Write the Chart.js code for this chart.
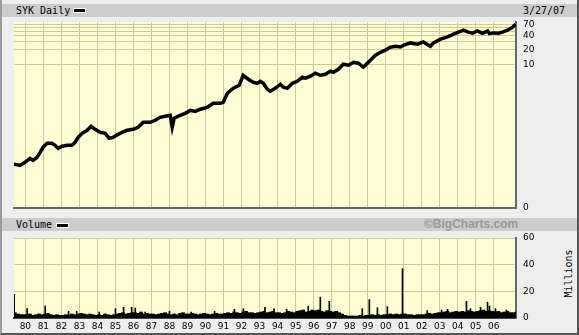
<!DOCTYPE html>
<html>
<head>
<meta charset="utf-8">
<script src="https://cdn.jsdelivr.net/npm/chart.js@4"></script>
<style>
body { margin: 0; background: #eeeeee; width: 579px; height: 335px; overflow: hidden; position: relative; }
#frame { position: absolute; left: 0; top: 0; width: 575px; height: 333px; border-left: 2px solid #9a9a9a; border-right: 2px solid #555; border-bottom: 2px solid #555; }
.bar { position: absolute; left: 2px; width: 575px; height: 13px; background: #cccccc; font: 10px "DejaVu Sans Mono", monospace; line-height: 13px; color: #000; }
.swatch { position: absolute; width: 11px; height: 3px; background: #000; border: 1px solid #fff; }
.txt { position: absolute; top: 0; }
canvas { position: absolute; left: 0; }
#millions { position: absolute; left: 540px; top: 268px; width: 56px; text-align: center; font: 10px "DejaVu Sans Mono", monospace; transform: rotate(-90deg); }
</style>
</head>
<body>
<div id="frame"></div>
<div class="bar" style="top:4px">
  <span class="txt" style="left:14px">SYK Daily</span>
  <span class="swatch" style="left:71px;top:4px"></span>
  <span class="txt" style="left:521px">3/27/07</span>
</div>
<div class="bar" style="top:218px">
  <span class="txt" style="left:14px">Volume</span>
  <span class="swatch" style="left:54px;top:5px"></span>
  <span class="txt" style="left:422px;font:bold 12px 'Liberation Sans',sans-serif;line-height:13px;color:#999">&copy;BigCharts.com</span>
</div>
<div id="millions">Millions</div>
<canvas id="priceChart" width="579" height="198" style="top:16px"></canvas>
<canvas id="volChart" width="579" height="101" style="top:232px"></canvas>
<script>
// price (split adjusted, log scale)
const priceYears = [1979.37,1979.71,1979.98,1980.26,1980.43,1980.65,1980.82,1980.98,1981.21,1981.48,1981.65,1981.82,1982.04,1982.32,1982.59,1982.76,1982.93,1983.15,1983.43,1983.65,1983.87,1984.15,1984.43,1984.65,1984.87,1985.15,1985.37,1985.65,1985.98,1986.26,1986.54,1986.93,1987.21,1987.48,1987.76,1988.04,1988.15,1988.26,1988.59,1988.87,1989.15,1989.43,1989.71,1990.09,1990.43,1990.82,1990.98,1991.21,1991.54,1991.87,1992.09,1992.37,1992.65,1992.87,1993.04,1993.21,1993.43,1993.59,1993.87,1994.15,1994.32,1994.54,1994.82,1995.09,1995.37,1995.54,1995.82,1996.09,1996.37,1996.65,1996.93,1997.09,1997.37,1997.65,1997.93,1998.21,1998.48,1998.76,1998.98,1999.15,1999.43,1999.71,1999.98,2000.26,2000.54,2000.82,2000.98,2001.37,2001.76,2002.09,2002.48,2002.65,2003.04,2003.43,2003.76,2004.04,2004.32,2004.54,2004.82,2005.09,2005.37,2005.65,2005.76,2005.98,2006.26,2006.48,2006.76,2007.04,2007.21];
const prices = [0.077,0.073,0.085,0.103,0.093,0.108,0.138,0.176,0.214,0.214,0.194,0.168,0.185,0.194,0.194,0.224,0.286,0.348,0.403,0.489,0.423,0.365,0.348,0.273,0.286,0.331,0.365,0.403,0.423,0.466,0.594,0.594,0.655,0.758,0.796,0.835,0.47,0.722,0.835,0.92,1.06,1.01,1.12,1.23,1.50,1.50,1.57,2.44,3.11,3.60,5.85,4.82,4.16,3.96,4.37,3.96,2.96,2.69,3.11,3.78,3.27,3.11,3.96,4.37,5.31,5.06,5.58,6.46,5.85,6.15,7.11,6.77,7.84,10.0,9.53,11.0,10.5,8.64,10.5,12.15,15.5,17.9,19.8,22.9,24.0,23.2,25.2,28.2,26.5,29.6,24.0,28.2,33.8,37.8,43.1,47.5,52.4,48.2,45.2,50.6,45.2,50.6,44.2,45.9,45.2,47.5,52.4,60.6,70.1];

// axis ticks
const yearTicks = [1980,1981,1982,1983,1984,1985,1986,1987,1988,1989,1990,1991,1992,1993,1994,1995,1996,1997,1998,1999,2000,2001,2002,2003,2004,2005,2006];
const priceGrid = [10,20,30,40,50,60,70];
const priceLabels = { 10: '10', 20: '20', 40: '40', 70: '70' };
const priceMin = 0.0092, priceMax = 78;
const xMin = 1979.37, xMax = 2007.23;
const volTicks = [0, 20, 40, 60];

// volume in millions, one bar every two months from mid 1979
const volStart = 1979.42;
const volStep = 1 / 6;
const volBase = [
  4,3,2.5,2.5,
  2.5,3,2,2.5,3,2.5,
  3,3.5,2.5,2,2.5,2,
  2,2.5,2,3,2.5,3,
  3.5,3,2.5,3,2.5,2,
  2.5,2,3,2.5,2,2.5,
  3,3.5,4,3,3.5,4,
  4,3.5,4.5,3,3.5,3,
  3,2.5,3,3.5,4,3,
  2.5,3,2.5,3.5,4,3,
  3,3.5,3,2.5,3,3.5,
  3,2.5,3,3.5,3,3,
  3.5,4,3.5,4.5,4,3.5,
  4.5,5,4,4,3.5,4,
  4.5,5,4,4.5,5,4,
  4,3.5,4,5,4.5,4,
  5,5.5,6,4.5,5,6,
  5.5,6,5,4.5,5.5,5,
  4.5,5,4,3,2,1.5,
  1.5,1.5,1.5,2,1.5,2,
  2,2.5,2,2.5,2,2.5,
  2.5,3,2.5,3,2.5,3,
  3,2.5,2.5,2,2.5,2.5,
  2.5,3,3.5,3,3.5,4,
  4,4.5,5,4,4.5,5,
  4.5,5,4.5,5.5,5,4.5,
  5,5.5,6,5,5.5,5,
  4.5,5,4,4.5,5,4,
  4,4.5
];
const volSpikeYears = [1979.38,1980.1,1981.1,1982.4,1982.85,1984.1,1985.0,1985.45,1985.9,1986.1,1986.65,1988.0,1989.2,1990.5,1991.6,1992.1,1993.3,1993.8,1994.5,1995.7,1996.37,1996.87,1998.7,1999.09,1999.54,2000.09,2000.93,2002.3,2003.1,2003.43,2004.48,2004.7,2005.26,2005.65,2005.76,2006.09,2006.7];
const volSpikes = [17.7,7,9,5,5,4.5,7,8,8,7.5,4.5,5,4.5,5,6.5,7,8,7,6.5,9,15.6,12.5,7,13.8,7.7,8.5,37,5.5,6,6.5,12.5,7,8,11.8,9,7,6];

const gridColor = '#cdcb8e';
const borderColor = '#666';
const tickFont = { family: 'DejaVu Sans', size: 9 };

const plotBg = {
  id: 'plotBg',
  beforeDraw(chart) {
    const a = chart.chartArea, c = chart.ctx;
    c.save();
    c.fillStyle = '#ffffd6';
    c.fillRect(a.left, a.top, a.right - a.left, a.bottom - a.top);
    c.restore();
  }
};

function xScale(showLabels) {
  return {
    type: 'linear', min: xMin, max: xMax, offset: false,
    afterBuildTicks: s => { s.ticks = yearTicks.map(v => ({ value: v })); },
    afterFit: s => { s.height = showLabels ? 15 : 0; },
    grid: { color: gridColor, drawTicks: false, offset: false },
    border: { color: showLabels ? '#444' : borderColor, width: 2 },
    ticks: {
      display: showLabels, autoSkip: false, maxRotation: 0, padding: 3,
      color: '#000', font: tickFont,
      callback: v => String(v % 100).padStart(2, '0')
    }
  };
}

// right value axis: labels pushed out with an invisible tick mark
function yGrid() {
  return { color: gridColor, drawTicks: true, tickLength: 7, tickColor: 'rgba(0,0,0,0)' };
}

new Chart(document.getElementById('priceChart'), {
  type: 'line',
  data: {
    datasets: [{
      data: priceYears.map((x, i) => ({ x: x, y: prices[i] })),
      borderColor: '#000', borderWidth: 3.5, pointRadius: 0, tension: 0
    }]
  },
  options: {
    responsive: false, animation: false,
    layout: { padding: { left: 14, top: 6, right: 0, bottom: 6 } },
    plugins: { legend: { display: false }, tooltip: { enabled: false } },
    scales: {
      x: xScale(false),
      y: {
        type: 'logarithmic', position: 'right', min: priceMin, max: priceMax,
        afterBuildTicks: s => { s.ticks = [priceMin].concat(priceGrid).map(v => ({ value: v })); },
        afterFit: s => { s.width = 63; },
        grid: yGrid(),
        border: { color: borderColor, width: 2 },
        ticks: {
          autoSkip: false, padding: 0, color: '#000', font: tickFont,
          callback: v => v === priceMin ? '0' : (priceLabels[v] || '')
        }
      }
    }
  },
  plugins: [plotBg]
});

new Chart(document.getElementById('volChart'), {
  type: 'bar',
  data: {
    datasets: [{
      data: volBase.map((v, i) => ({ x: volStart + i * volStep, y: v })),
      backgroundColor: '#000', barThickness: 3, grouped: false
    }, {
      data: volSpikeYears.map((x, i) => ({ x: x, y: volSpikes[i] })),
      backgroundColor: '#000', barThickness: 1, grouped: false
    }]
  },
  options: {
    responsive: false, animation: false,
    layout: { padding: { left: 14, top: 6, right: 0, bottom: 0 } },
    plugins: { legend: { display: false }, tooltip: { enabled: false } },
    scales: {
      x: xScale(true),
      y: {
        position: 'right', min: 0, max: 60,
        afterBuildTicks: s => { s.ticks = volTicks.map(v => ({ value: v })); },
        afterFit: s => { s.width = 63; },
        grid: yGrid(),
        border: { color: borderColor, width: 2 },
        ticks: { padding: 0, color: '#000', font: tickFont }
      }
    }
  },
  plugins: [plotBg]
});
</script>
</body>
</html>
